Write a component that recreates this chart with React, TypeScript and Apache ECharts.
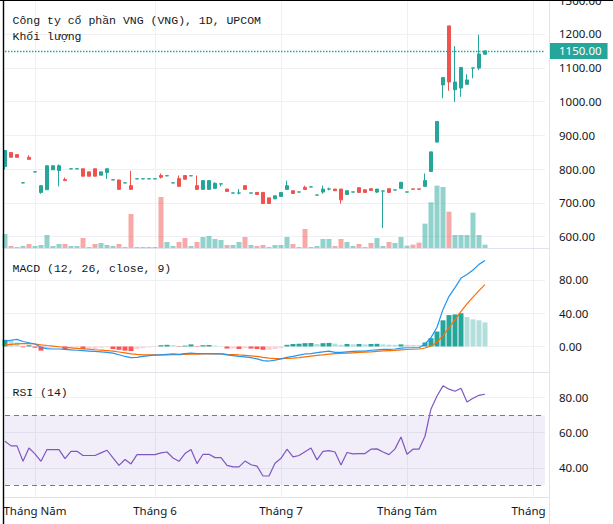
import React, { useEffect, useRef } from "react";
import * as echarts from "echarts";

// ---- Data ----
const N_SLOTS = 91; // 81 sessions + future empty slots on the time axis
const CATEGORIES = Array.from({ length: N_SLOTS }, (_, i) => `Phiên ${i + 1}`);
const MONTH_TICK_INDEX = [5, 25, 46, 67, 88];
const MONTH_LABELS = ["Tháng Năm", "Tháng 6", "Tháng 7", "Tháng Tám", "Tháng"];

const OPEN = [808, 849, 843, 759, 835, 791.5, 731, 739, 798, 796,
  769, 800.5, 800.5, 801, 792, 801, 782, 790, 768, 768,
  759, 751, 771, 771, 771, 771, 781, 780, 759, 772,
  781, 780, 751, 740, 740, 743, 756, 741, 729, 729,
  751, 729, 731, 731, 715, 712, 719, 740, 736, 732,
  746, 747, 723, 732, 741, 741, 741, 725, 732, 745,
  739, 742, 732, 735, 742, 738, 743, 732, 741.5, 741.5,
  749, 793, 880, 1049, 1224, 1035, 1040, 1051, 1099, 1099, 1140];
const CLOSE = [855, 835, 835, 759.5, 829, 792, 751, 810, 810, 810,
  766, 801, 801, 779, 779, 779, 792, 801, 768.5, 740,
  759.5, 740, 771.5, 771.5, 771.5, 771.5, 776, 780.5, 759.5, 749,
  770, 780.5, 740, 766, 766, 758, 756.5, 734, 729.5, 729.5,
  740, 729.5, 725, 698, 698, 721, 731, 751, 728, 732.5,
  740, 747.5, 723.5, 741, 741.5, 736, 709, 736, 732.5, 731,
  731, 737, 741, 735.5, 731, 738.5, 761, 732.5, 740.5, 740.5,
  766, 851, 941, 1071, 1058, 1058, 1101, 1064, 1099.5, 1141, 1150];
const LOW = [799, 835, 835, 759, 829, 791.5, 727, 739, 798, 749,
  766, 800.5, 800.5, 779, 779, 779, 782, 771, 768, 740,
  759, 740, 771, 771, 771, 771, 772, 780, 759, 749,
  770, 780, 740, 740, 740, 743, 749, 734, 729, 725,
  740, 729, 725, 698, 698, 712, 719, 740, 728, 732,
  740, 747, 723, 727, 737, 736, 698, 725, 732, 731,
  731, 737, 729, 626, 731, 738, 743, 732, 740.5, 740.5,
  749, 793, 880, 1010, 1032, 999, 1014, 1051, 1069, 1093, 1140];
const HIGH = [855, 849, 843, 759.5, 841, 792, 751, 810, 810, 814,
  775, 801, 801, 801, 792, 801, 792, 801, 768.5, 768,
  759.5, 795, 771.5, 771.5, 771.5, 771.5, 787, 780.5, 759.5, 781,
  781, 780.5, 781, 766, 766, 761, 756.5, 741, 729.5, 741,
  751, 729.5, 731, 731, 715, 721, 731, 766, 736, 732.5,
  751, 747.5, 723.5, 751, 745, 741, 741, 736, 732.5, 745,
  739, 742, 741, 735.5, 742, 738.5, 761, 732.5, 741.5, 741.5,
  787, 851, 941, 1071, 1224, 1164, 1101, 1081, 1099.5, 1198, 1150];
const VOLUME = [42, 6, 3, 6, 12, 6, 9, 39, 6, 12,
  12, 6, 6, 30, 3, 12, 15, 9, 6, 12,
  3, 102, 3, 3, 3, 3, 153, 18, 6, 18,
  30, 6, 18, 33, 36, 27, 24, 9, 9, 18,
  33, 9, 6, 9, 3, 9, 9, 33, 12, 3,
  57, 3, 6, 27, 27, 6, 27, 18, 6, 12,
  3, 15, 30, 6, 18, 15, 33, 7, 10, 16,
  73, 137, 187, 183, 109, 39, 39, 39, 106, 39, 10];

const MACD = [6.5, 7.5, 8.5, 6, 4.5, 3, -1, -2.5, -3, -3,
  -3.5, -4, -4.5, -5, -5.5, -6, -6.5, -7, -8, -10,
  -12, -13.5, -13, -12, -11, -10.5, -10, -9.5, -9, -9.5,
  -8.5, -8, -8.5, -8.5, -8.5, -9, -9, -10, -11, -12,
  -12.5, -13.5, -15, -17, -17.5, -16.5, -15, -13, -12, -10.5,
  -9, -8.5, -7.5, -6.5, -5.5, -7, -7, -6.5, -6, -5.5,
  -5.5, -4.5, -4, -3.5, -3.5, -3, -2, -1.5, -1.5, -1.5,
  3, 10.7, 23.2, 44.6, 60.4, 70.9, 82.3, 86.7, 92.1, 98.8, 103.5];
const SIGNAL = [2, 2.5, 3.2, 3.5, 3.4, 3, 2, 1.2, 0.5, -0.3,
  -1, -1.6, -2.2, -2.8, -3.3, -3.9, -4.4, -5, -5.6, -6.6,
  -7.7, -9, -9.6, -10, -10.2, -10.2, -10.2, -10, -9.9, -9.8,
  -9.5, -9.3, -9.2, -9, -9, -9, -9, -9.4, -9.7, -10.2,
  -10.6, -11.2, -12, -13, -13.9, -14.5, -14.6, -14.3, -13.9, -13.3,
  -12.4, -11.6, -10.8, -10, -9.1, -8.7, -8.4, -8, -7.6, -7.2,
  -6.9, -6.4, -5.9, -5.4, -5, -4.6, -4.1, -3.6, -3.3, -3.0,
  -1.8, 0.7, 5.2, 13.1, 22.6, 32.3, 42.3, 51.2, 59.4, 67.3, 74.5];
const HIST = [8, 8, 5, -1, 1.5, -1.5, -5, -2, -1, -1,
  -3, -1, -1, -3, -3, -3, -1.5, -1, -3, -4,
  -5, -5.5, -3, -2, -1, -0.5, 1.5, 2, 1.5, -0.5,
  1, 2.5, -0.5, 1.5, 1.8, 1, 0.3, -2.5, -2.5, -3,
  -2, -2.5, -3, -4, -4, -3, -2, 2, 3, 3.3,
  4, 4.2, 3, 4, 4.3, 3.5, 2, 3, 2.5, 3,
  2.5, 3, 3.2, 2.5, 2.2, 2, 2.5, 2, 1.8, 1.5,
  4.8, 10, 18, 31.5, 37.8, 38.6, 40, 35.5, 32.7, 31.5, 29];
const RSI = [55.1, 52.5, 52.5, 43.7, 51.3, 47.9, 43.7, 50.4, 50.4, 50.4,
  45.2, 49.4, 49.4, 47, 47, 47, 48.5, 50, 45.6, 41.4,
  44.7, 42.2, 47.5, 47.5, 47.5, 47.5, 48.5, 49, 45.6, 43.7,
  48.1, 50.4, 42.4, 47.7, 47.7, 45.8, 45.8, 41.4, 40.5, 40.5,
  43.8, 41.7, 40.9, 35.3, 35.3, 42.6, 45.4, 50.6, 46.2, 47,
  49.2, 51.3, 44.5, 49.4, 49.8, 49, 41.6, 48.7, 47.9, 48.1,
  48.1, 50.6, 50.8, 49, 47.5, 50.8, 57.6, 47.7, 50.6, 50.6,
  58, 73.6, 81, 86.8, 84.9, 83.7, 85.4, 77.6, 79.7, 81.4, 82];

const PRICE_TICKS = [600, 700, 800, 900, 1000, 1100, 1200, 1300];
const MACD_TICKS = [0, 40, 80];
const RSI_TICKS = [40, 60, 80];
const RSI_BANDS = [30, 70];

// ---- styling ----
const UP = "#26a69a";
const DOWN = "#ef5350";
const GRID_C = "#eef0f4";
const SEP_C = "#e0e3eb";
const TXT = "#131722";
const AXIS_FONT = "Noto Sans";
const MONO = "Liberation Mono";

export default function App() {
  const ref = useRef<HTMLDivElement>(null);
  useEffect(() => {
    if (!ref.current) return;
    const chart = echarts.init(ref.current, null, { renderer: "svg" });

    const candles = OPEN.map((o, i) => [o, CLOSE[i], LOW[i], HIGH[i]]);
    const vol = VOLUME.map((v, i) => ({
      value: v,
      itemStyle: { color: CLOSE[i] >= OPEN[i] ? "rgba(38,166,154,0.5)" : "rgba(239,83,80,0.5)" },
    }));
    const hist = HIST.map((v, i) => {
      const p = i > 0 ? HIST[i - 1] : 0;
      const c = v >= 0 ? (v > p ? "#26a69a" : "#b2dfdb") : (v < p ? "#ff5252" : "#ffcdd2");
      return { value: v, itemStyle: { color: c } };
    });
    const lastClose = CLOSE[CLOSE.length - 1];

    const monthInterval = (idx: number) => MONTH_TICK_INDEX.includes(idx);
    const xAxisBase = (gridIndex: number, showLabel: boolean) => ({
      type: "category",
      gridIndex,
      data: CATEGORIES,
      boundaryGap: false,
      axisLine: { show: false },
      axisTick: { show: false },
      splitLine: { show: true, interval: monthInterval, lineStyle: { color: GRID_C, width: 1 } },
      axisLabel: {
        show: showLabel,
        interval: monthInterval,
        margin: 7,
        color: TXT,
        fontFamily: AXIS_FONT,
        fontSize: 11.5,
        formatter: (_v: string, idx: number) => {
          const k = MONTH_TICK_INDEX.indexOf(idx);
          if (k < 0) return "";
          return k === MONTH_LABELS.length - 1 ? `{c|${MONTH_LABELS[k]}}` : MONTH_LABELS[k];
        },
        rich: { c: { padding: [0, 9, 0, 0], color: TXT, fontFamily: AXIS_FONT, fontSize: 11.5 } },
      },
    });
    const yAxisBase = (gridIndex: number, min: number, max: number, ticks: number[]) => ({
      type: "value",
      gridIndex,
      position: "right",
      min,
      max,
      axisLine: { show: false },
      axisTick: { show: false, customValues: ticks },
      splitLine: { show: true, lineStyle: { color: GRID_C, width: 1 } },
      axisLabel: {
        customValues: ticks,
        margin: 14,
        color: TXT,
        fontFamily: AXIS_FONT,
        fontSize: 11.5,
        formatter: (v: number) => v.toFixed(2),
      },
    });
    const gridBase = (top: number, height: number) => ({
      left: 5,
      width: 540,
      top,
      height,
      containLabel: false,
      outerBoundsMode: "none",
    });

    chart.setOption({
      animation: false,
      backgroundColor: "#ffffff",
      grid: [gridBase(0, 248), gridBase(248, 124), gridBase(372, 125)],
      xAxis: [xAxisBase(0, false), xAxisBase(1, false), xAxisBase(2, true)],
      yAxis: [
        yAxisBase(0, 566.5, 1300.6, PRICE_TICKS),
        { type: "value", gridIndex: 0, min: 0, max: 744, show: false, splitLine: { show: false } },
        yAxisBase(1, -30.7, 118.5, MACD_TICKS),
        yAxisBase(2, 23.3, 94.7, RSI_TICKS),
      ],
      series: [
        {
          type: "bar",
          name: "Khối lượng",
          xAxisIndex: 0,
          yAxisIndex: 1,
          data: vol,
          barWidth: 5,
          clip: false,
          z: 1,
        },
        {
          type: "candlestick",
          name: "VNG",
          xAxisIndex: 0,
          yAxisIndex: 0,
          data: candles,
          barWidth: 4,
          clip: false,
          z: 3,
          itemStyle: { color: UP, color0: DOWN, borderColor: UP, borderColor0: DOWN, borderWidth: 1 },
          markLine: {
            silent: true,
            symbol: ["none", "none"],
            lineStyle: { color: UP, type: [1.5, 1.5], width: 1.3, opacity: 1 },
            label: {
              show: true,
              position: "end",
              distance: 4,
              formatter: (p: any) => Number(p.value).toFixed(2),
              backgroundColor: UP,
              color: "#ffffff",
              fontFamily: AXIS_FONT,
              fontSize: 11.5,
              lineHeight: 14,
              padding: [1, 6, 1, 10],
            },
            data: [{ yAxis: lastClose }],
          },
        },
        {
          type: "bar",
          name: "Histogram",
          xAxisIndex: 1,
          yAxisIndex: 2,
          data: hist,
          barWidth: 5,
          clip: false,
        },
        {
          type: "line",
          name: "MACD",
          xAxisIndex: 1,
          yAxisIndex: 2,
          data: MACD,
          showSymbol: false,
          clip: false,
          lineStyle: { color: "#2196f3", width: 1.2 },
          z: 4,
        },
        {
          type: "line",
          name: "Signal",
          xAxisIndex: 1,
          yAxisIndex: 2,
          data: SIGNAL,
          showSymbol: false,
          clip: false,
          lineStyle: { color: "#ff6d00", width: 1.2 },
          z: 3,
        },
        {
          type: "line",
          name: "RSI",
          xAxisIndex: 2,
          yAxisIndex: 3,
          data: RSI,
          showSymbol: false,
          clip: false,
          lineStyle: { color: "#7e57c2", width: 1.2 },
          markArea: {
            silent: true,
            itemStyle: { color: "rgba(126,87,194,0.1)" },
            data: [[{ yAxis: RSI_BANDS[0] }, { yAxis: RSI_BANDS[1] }]],
          },
          markLine: {
            silent: true,
            symbol: ["none", "none"],
            label: { show: false },
            lineStyle: { color: "#787b86", type: [5, 4], width: 1 },
            data: RSI_BANDS.map((v) => ({ yAxis: v })),
          },
        },
      ],
      graphic: [
        { type: "line", shape: { x1: 3, y1: 248.5, x2: 549.5, y2: 248.5 }, style: { stroke: SEP_C, lineWidth: 1 }, z: 10 },
        { type: "line", shape: { x1: 3, y1: 372.5, x2: 549.5, y2: 372.5 }, style: { stroke: SEP_C, lineWidth: 1 }, z: 10 },
        { type: "line", shape: { x1: 3, y1: 497.5, x2: 549.5, y2: 497.5 }, style: { stroke: SEP_C, lineWidth: 1 }, z: 10 },
        { type: "line", shape: { x1: 549.5, y1: 0, x2: 549.5, y2: 524 }, style: { stroke: SEP_C, lineWidth: 1 }, z: 10 },
        { type: "line", shape: { x1: 3.5, y1: 0, x2: 3.5, y2: 524 }, style: { stroke: "#000000", lineWidth: 1.4 }, z: 20 },
        { type: "line", shape: { x1: 0, y1: 0.5, x2: 613, y2: 0.5 }, style: { stroke: "#000000", lineWidth: 1.2 }, z: 20 },
        { type: "text", x: 12.5, y: 20.5, style: { text: "Công ty cổ phần VNG (VNG), 1D, UPCOM", fill: TXT, font: `11.5px '${MONO}'`, verticalAlign: "middle" }, z: 20 },
        { type: "text", x: 12.5, y: 36.5, style: { text: "Khối lượng", fill: TXT, font: `11.5px '${MONO}'`, verticalAlign: "middle" }, z: 20 },
        { type: "text", x: 12.5, y: 268.5, style: { text: "MACD (12, 26, close, 9)", fill: TXT, font: `11.5px '${MONO}'`, verticalAlign: "middle" }, z: 20 },
        { type: "text", x: 12.5, y: 392.5, style: { text: "RSI (14)", fill: TXT, font: `11.5px '${MONO}'`, verticalAlign: "middle" }, z: 20 },
      ],
    });
    return () => chart.dispose();
  }, []);

  return (
    <div
      ref={ref}
      style={{ position: "absolute", left: 0, top: 0, width: 613, height: 524, background: "#fff" }}
    />
  );
}
